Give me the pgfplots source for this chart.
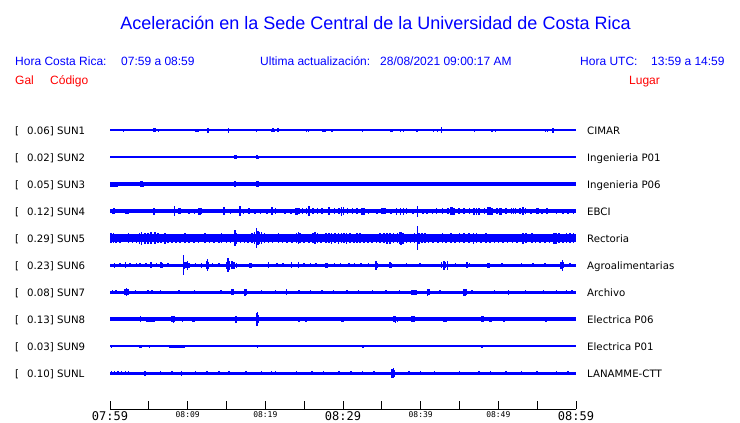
\documentclass[border=0pt]{standalone}
\usepackage{pgfplots}
\pgfplotsset{compat=1.18}
\usepackage{pgfplotstable}
\usepackage{fontspec}
\setmainfont{Liberation Sans}
\newfontfamily\dv{DejaVu Sans}
\newfontfamily\dvm{DejaVu Sans Mono}

\pgfplotstableread{
t a
1.72 1.5
4.29 1.2
5.24 1.2
5.6 1.8
5.79 2.2
6.22 1.5
10.6 1.2
10.75 1.2
11.1 1.5
11.25 1.5
11.4 1.5
12.62 2.5
14.21 1.2
15.28 2.5
16.78 1
17.30 1
18.88 1.5
20.8 1.5
20.95 2.2
21.1 1.5
21.63 2
25.28 1.5
25.54 1.5
27.45 1.5
27.55 1.5
27.7 1.5
28.58 1.5
31.97 1.2
32.49 1.5
34.03 1.2
36.2 1.5
36.35 1.5
37.38 1.5
37.77 1.5
39.49 1.5
41.63 1.5
42.15 1.5
42.66 3
43.43 1.2
46.27 1.2
46.91 1.5
49.1 1.5
49.25 1.5
49.61 1.5
54.38 1.2
56.05 1.5
56.31 1.5
57.04 2.5
}\sunA
\pgfplotstableread{
t a
0.1 1.2
3.78 1
16.1 1.8
16.25 1.8
18.95 1.8
19.1 1.5
}\sunB
\pgfplotstableread{
t a
0.1 2.5
0.3 2.5
0.5 2.5
0.7 2.5
0.9 2.5
2.0 2.3
4.0 3
4.15 3
4.3 2.5
11.8 2.2
16.1 2.8
18.9 3.2
19.05 3
19.96 2.3
22.5 2.2
23.2 2.2
24.0 2.3
}\sunC
\pgfplotstableread{
t a
0.3 2.5
0.52 3
1.0 2.3
2.0 2.5
2.15 2.5
2.3 2.5
3.0 2.3
3.8 2.3
4.5 2.3
5.7 3.5
6.5 2.3
7.2 2.3
8.28 5
8.88 2.8
9.0 2.8
9.5 2.3
10.2 2.5
10.9 2.5
11.45 3.5
11.59 3.5
11.75 3
12.3 2.3
13.2 2.3
14.6 4
14.75 4
15.5 2.5
16.74 5
17.2 2.5
17.9 2.8
18.7 2.5
19.4 2.5
20.2 2.5
20.82 4
21.3 2.8
22.5 2.5
23.3 2.5
23.9 3.5
24.04 3.5
24.3 3
24.8 2.8
25.3 2.8
25.62 5
26.1 2.8
26.7 2.8
27.3 2.8
28.2 4
28.9 2.8
29.5 3
29.83 4.5
30.04 4
30.6 3
31.2 2.8
31.8 3
32.4 3.5
32.54 3.5
32.7 3.5
33.3 2.5
34.4 2.5
35.0 3
35.19 3
35.4 3
36.2 2.5
36.9 3.5
37.4 3.5
37.77 3.5
38.2 3
39.0 2.5
39.57 5.5
40.3 2.5
40.8 2.5
41.5 2.5
42.06 3
42.8 3
43.5 3
43.9 4
44.08 4
44.3 3.5
44.9 3
45.6 2.8
46.3 3
46.9 3.5
47.21 3.5
47.5 3.5
48.2 3
48.7 4
48.93 4
49.2 3.5
49.8 3
50.2 3.5
50.43 3.5
51.0 2.8
51.7 3
51.93 3
52.2 3
52.8 2.8
53.14 4
53.5 2.8
54.2 2.5
55.0 3
55.15 3
55.6 2.5
56.3 2.8
57.51 2.5
58.3 2.5
59.0 2.5
59.7 2.5
}\sunD
\pgfplotstableread{
t a
0.1 5
0.43 5
0.8 4.5
1.3 4.5
1.8 4
2.36 5
2.9 4.5
3.4 4.5
3.8 5.5
4.08 6.5
4.5 5.5
4.93 5.5
5.3 6
5.79 6
6.2 5
6.6 4.5
7.08 5.5
7.5 4.5
8.0 4.5
8.5 4.5
9.0 4.5
9.66 5
10.2 4.5
10.8 4.5
11.4 4.5
12.23 5
12.8 4.5
13.4 4.5
14.0 4.5
14.38 5
15.0 4.5
15.5 4.5
16.1 8.3
16.3 5.5
16.8 4.5
17.3 4.5
17.8 4.5
18.3 5
18.6 6
18.88 10
19.05 7
19.25 6
19.53 6
19.9 5
20.4 4.5
20.9 4.5
21.67 5
22.2 4.5
22.8 4.5
23.4 4.5
24.0 5
24.25 6
24.5 5
25.0 4.5
25.6 4.5
26.1 5
26.4 6
26.7 5
27.2 4.5
27.8 5
28.2 5
28.54 5.5
29.0 5
29.4 5.5
29.8 5
30.1 5
30.47 5.5
30.9 5
31.4 4.5
31.8 5
32.19 5
32.7 4.5
33.2 4.5
33.7 4.5
34.3 4.5
34.8 5
35.3 5
35.7 5.5
36.05 5.5
36.5 5
37.0 5
37.3 6
37.47 6.5
37.7 5.5
38.2 4.5
38.7 4.5
39.2 5
39.57 12
39.8 5.5
40.2 5
40.56 5
41.0 4.5
41.6 4.5
42.2 4.5
42.8 5
43.3 4.5
43.9 5
44.4 4.5
45.0 5
45.6 5
46.2 5
46.78 5.5
47.2 5
47.8 4.5
48.4 5
48.9 4.5
49.5 4.5
50.0 4.5
50.6 4.5
51.2 4.5
51.8 4.5
52.4 4.5
53.14 5.5
53.6 5
54.3 5
54.8 4.5
55.4 4.5
56.0 4.5
56.6 4.5
57.2 5.5
57.43 5.5
57.8 5
58.3 4.5
58.8 5
59.23 5
59.7 5
}\sunE
\pgfplotstableread{
t a
0.56 2.5
1.3 2
2.02 2.8
2.6 1.8
3.4 2
3.9 2
4.6 2
5.28 2.8
6.0 2.2
6.57 2.8
6.75 2.5
7.5 2
9.44 10
9.6 3.5
9.8 3
10.0 4.5
10.2 2.5
11.0 2
11.8 2.5
12.4 4
12.53 5.8
12.7 3.5
13.2 2
14.0 2
15.0 3.5
15.23 7
15.4 4.5
15.7 4
16.0 3.5
16.3 2.5
18.0 2.5
18.2 2.5
20.39 3
21.5 2
22.3 2
23.39 3
24.25 3
25.0 2
25.8 2
26.5 2
27.8 2.5
28.0 2.5
28.9 2
29.7 2
30.8 2
31.5 2
32.3 2
33.3 2
34.25 4.5
34.4 2.5
36.05 3
36.2 2.5
38.2 2
39.9 2
42.7 3
43.0 4.5
43.2 3
43.43 4.5
44.5 2
45.93 3
46.3 2
48.6 2.5
48.8 2.5
50.5 2
53.0 2
54.5 2.2
56.0 2
58.1 3.5
58.24 5.5
58.4 3
59.2 2
}\sunF
\pgfplotstableread{
t a
0.3 1.8
0.8 1.8
1.9 3
2.1 3.8
2.3 3
3.3 1.8
4.9 2
5.4 2
6.5 2
8.9 2
10.9 2
14.3 2
15.7 3
15.85 3
17.3 3.5
17.45 3.5
17.6 3
19.5 2
21.3 2
22.75 2.8
24.3 2
25.8 2
27.3 2
28.8 2
30.5 2
32.0 2
33.8 2
35.5 2
37.3 2
38.9 2.5
39.14 2.5
39.4 2.5
40.9 3.5
41.05 3
42.5 2
45.6 3.5
45.71 3.5
45.9 3
46.6 2
49.5 2
51.29 2.5
53.5 2
55.8 2
57.5 2
58.8 2.2
59.5 2
}\sunG
\pgfplotstableread{
t a
0.64 2.2
1.72 2.2
3.3 2.2
3.95 3
4.7 2.5
4.9 2.5
5.1 2.5
5.3 2.5
5.5 2.5
5.7 2.5
8.0 3
8.15 3.5
8.3 3
9.36 2.5
10.6 2.5
10.8 2.5
16.22 3.5
17.73 2.2
18.85 6.5
18.97 6.8
19.1 4
22.1 2.2
24.34 2.5
25.2 2.5
27.04 2.2
28.33 2.2
29.85 2.5
30.0 2.5
33.26 2.2
34.34 2.2
34.9 2.2
35.6 2.2
36.6 3.2
36.75 3.5
37.0 2.5
38.9 3
39.05 3
39.2 3
40.56 2.2
41.5 2.2
42.06 2.2
43.0 2.5
43.25 2.5
44.2 2.2
44.9 2.2
47.9 3
48.05 3
48.9 2.5
49.1 2.5
50.73 2.5
52.79 2.2
53.86 2.2
56.1 2.5
58.9 2
59.3 2
59.7 2
}\sunH
\pgfplotstableread{
t a
0.21 1.5
0.35 1.2
0.9 1.2
3.86 1.5
4.0 1.5
4.42 1.2
5.06 1.5
6.86 1
7.73 1.5
7.9 1.5
8.1 1.5
8.3 1.5
8.5 1.5
8.7 1.5
8.9 1.5
9.1 1.5
9.3 1.5
9.5 1.5
16.3 1
19.0 1.5
32.54 1.5
33.9 1
35.28 1.2
37.77 1
39.4 1
46.57 1
47.86 1.5
53.01 1
}\sunI
\pgfplotstableread{
t a
0.2 2
0.6 2
1.0 2
1.5 2
2.0 2
2.4 1.8
4.5 2.5
6.5 1.8
8.0 1.8
9.23 2.5
11.0 1.8
12.5 1.8
14.0 1.8
15.3 1.8
17.5 1.8
19.5 1.8
20.8 2
21.3 1.8
24.0 1.8
26.0 1.8
27.5 1.8
29.5 1.8
31.0 1.8
32.5 1.8
34.0 1.8
36.3 4.5
36.48 4.7
36.65 3.5
38.5 1.8
40.0 1.8
41.8 2
45.0 1.8
47.5 1.8
49.0 1.8
51.0 1.8
53.0 1.8
55.0 1.8
57.5 1.8
59.0 1.8
}\sunL

\pgfplotsset{
  spk/.style={blue, draw=none, mark=none, forget plot,
    error bars/y dir=both, error bars/y explicit,
    error bars/error mark=none,
    error bars/error bar style={draw=blue, line width=1.6bp, solid}},
  base/.style={blue, line width=#1, no marks, forget plot}
}
\newcommand{\bigt}[1]{{\fontsize{12bp}{12bp}\selectfont #1}}
\newcommand{\smt}[1]{\raisebox{3.7bp}{\fontsize{8bp}{8bp}\selectfont #1}}

\begin{document}
\begin{tikzpicture}
\path[use as bounding box] (0,0) rectangle (740bp,-423bp);
\begin{scope}[x=1bp,y=-1bp]
\node[anchor=base, text=blue, font=\fontsize{18bp}{20bp}\selectfont, inner sep=0pt] at (375.5,29) {Aceleración en la Sede Central de la Universidad de Costa Rica};
\begin{scope}[every node/.style={anchor=base west, inner sep=0pt, font=\fontsize{12bp}{14bp}\selectfont}]
\node[text=blue] at (15,65) {Hora Costa Rica:};
\node[text=blue] at (121,65) {07:59 a 08:59};
\node[text=blue] at (260,65) {Ultima actualización:};
\node[text=blue] at (380,65) {28/08/2021 09:00:17 AM};
\node[text=blue] at (580,65) {Hora UTC:};
\node[text=blue] at (651,65) {13:59 a 14:59};
\node[text=red] at (15,84.5) {Gal};
\node[text=red] at (50,84.5) {Código};
\node[text=red] at (629,84.5) {Lugar};
\end{scope}
\begin{scope}[every node/.style={anchor=base west, inner sep=0pt, font=\dv\fontsize{10.2bp}{12bp}\selectfont}]
\foreach \v/\c/\l [count=\i from 0] in {0.06/SUN1/CIMAR, 0.02/SUN2/Ingenieria P01, 0.05/SUN3/Ingenieria P06, 0.12/SUN4/EBCI, 0.29/SUN5/Rectoria, 0.23/SUN6/Agroalimentarias, 0.08/SUN7/Archivo, 0.13/SUN8/Electrica P06, 0.03/SUN9/Electrica P01, 0.10/SUNL/LANAMME-CTT}{
  \node at (15,{134+27*\i}) {[};
  \node at (27,{134+27*\i}) {\v] \c};
  \node at (587,{134+27*\i}) {\l};
}
\end{scope}
\end{scope}
\begin{axis}[at={(110bp,-409bp)}, anchor=south west, scale only axis,
  width=466bp, height=409bp, xmin=0, xmax=60, ymin=0, ymax=409,
  enlargelimits=false, clip=false,
  axis x line=bottom, axis y line=none,
  axis line style={-, black, line width=0.9bp},
  xtick={0,5,...,60}, tick align=inside, major tick length=8bp,
  tick style={black, line width=0.9bp},
  xticklabels={\bigt{07:59},,\smt{08:09},,\smt{08:19},,\bigt{08:29},,\smt{08:39},,\smt{08:49},,\bigt{08:59}},
  xticklabel style={font=\dvm, anchor=base, yshift=-11.7bp, inner sep=0pt},
]
\addplot[base=1.3bp] coordinates {(0,279) (60,279)};
\addplot[spk] table[x=t, y expr=279, y error=a] {\sunA};
\addplot[base=1.2bp] coordinates {(0,252) (60,252)};
\addplot[spk] table[x=t, y expr=252, y error=a] {\sunB};
\addplot[base=3.8bp] coordinates {(0,225) (60,225)};
\addplot[spk] table[x=t, y expr=225, y error=a] {\sunC};
\addplot[base=3.6bp] coordinates {(0,198) (60,198)};
\addplot[spk] table[x=t, y expr=198, y error=a] {\sunD};
\addplot[base=7.4bp] coordinates {(0,171) (60,171)};
\addplot[spk] table[x=t, y expr=171, y error=a] {\sunE};
\addplot[base=3bp] coordinates {(0,144) (60,144)};
\addplot[spk] table[x=t, y expr=144, y error=a] {\sunF};
\addplot[base=3bp] coordinates {(0,117) (60,117)};
\addplot[spk] table[x=t, y expr=117, y error=a] {\sunG};
\addplot[base=3.6bp] coordinates {(0,90) (60,90)};
\addplot[spk] table[x=t, y expr=90, y error=a] {\sunH};
\addplot[base=1.2bp] coordinates {(0,63) (60,63)};
\addplot[spk] table[x=t, y expr=63, y error=a] {\sunI};
\addplot[base=3bp] coordinates {(0,36) (60,36)};
\addplot[spk] table[x=t, y expr=36, y error=a] {\sunL};
\end{axis}
\end{tikzpicture}
\end{document}
